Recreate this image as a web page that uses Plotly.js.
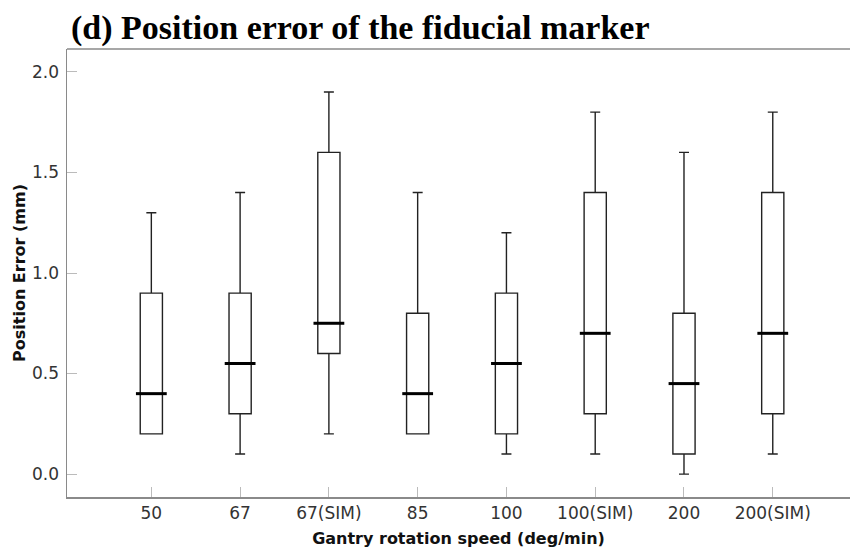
<!DOCTYPE html>
<html>
<head>
<meta charset="utf-8">
<script src="https://cdn.plot.ly/plotly-3.0.1.min.js"></script>
<style>
html,body{margin:0;padding:0;background:#fff;overflow:hidden;width:850px;height:554px;}
#chart{width:850px;height:554px;}
</style>
</head>
<body>
<div id="chart"></div>
<script>
// Data
const categories = ["50", "67", "67(SIM)", "85", "100", "100(SIM)", "200", "200(SIM)"];
const minValues    = [0.2, 0.1, 0.2, 0.2, 0.1, 0.1, 0.0, 0.1];
const q1Values     = [0.2, 0.3, 0.6, 0.2, 0.2, 0.3, 0.1, 0.3];
const medianValues = [0.4, 0.55, 0.75, 0.4, 0.55, 0.7, 0.45, 0.7];
const q3Values     = [0.9, 0.9, 1.6, 0.8, 0.9, 1.4, 0.8, 1.4];
const maxValues    = [1.3, 1.4, 1.9, 1.4, 1.2, 1.8, 1.6, 1.8];
const yTickValues  = [0, 0.5, 1.0, 1.5, 2.0];
const yTickLabels  = ["0.0", "0.5", "1.0", "1.5", "2.0"];

const boxTrace = {
  type: "box",
  x: categories,
  q1: q1Values,
  median: medianValues,
  q3: q3Values,
  lowerfence: minValues,
  upperfence: maxValues,
  boxpoints: false,
  width: 0.25,
  whiskerwidth: 0.45,
  fillcolor: "#ffffff",
  line: {color: "#222222", width: 1.4},
  hoverinfo: "skip",
  showlegend: false
};

const medianTrace = {
  type: "scatter",
  mode: "markers",
  x: categories,
  y: medianValues,
  marker: {symbol: "line-ew", size: 22, line: {color: "#000000", width: 3}},
  hoverinfo: "skip",
  showlegend: false
};

const tickFont = {family: "DejaVu Sans", size: 17, color: "#333333"};
const titleFont = {family: "DejaVu Sans", size: 16, color: "#111111", weight: "bold"};

const layout = {
  width: 850,
  height: 554,
  margin: {l: 67, r: 0, t: 49, b: 57},
  paper_bgcolor: "#ffffff",
  plot_bgcolor: "#ffffff",
  title: {
    text: "<b>(d) Position error of the fiducial marker</b>",
    font: {family: "Liberation Serif", size: 34, color: "#000000"},
    xref: "container", x: 71/850, xanchor: "left",
    yref: "container", y: 1 - 27/554, yanchor: "middle"
  },
  shapes: [{
    type: "line", xref: "paper", yref: "paper",
    x0: 0, x1: 1.02, y0: 1, y1: 1,
    line: {color: "#8a8a8a", width: 1.5}
  }],
  xaxis: {
    type: "category",
    range: [-0.95, 7.87],
    showgrid: false,
    zeroline: false,
    showline: true,
    mirror: false,
    linecolor: "#8a8a8a",
    linewidth: 1.5,
    ticks: "inside",
    ticklen: 10,
    tickcolor: "#bbbbbb",
    tickwidth: 1,
    tickfont: tickFont,
    ticklabelstandoff: 0,
    title: {text: "Gantry rotation speed (deg/min)", font: titleFont, standoff: 11},
    automargin: false
  },
  yaxis: {
    range: [-0.114, 2.114],
    tickvals: yTickValues,
    ticktext: yTickLabels,
    showgrid: false,
    zeroline: false,
    showline: true,
    mirror: false,
    linecolor: "#8a8a8a",
    linewidth: 1.5,
    ticks: "inside",
    ticklen: 10,
    tickcolor: "#bbbbbb",
    tickwidth: 1,
    tickfont: tickFont,
    ticklabelstandoff: 3,
    title: {text: "Position Error (mm)", font: titleFont, standoff: 2},
    automargin: false
  }
};

Plotly.newPlot("chart", [boxTrace, medianTrace], layout, {displayModeBar: false, staticPlot: true});
</script>
</body>
</html>
